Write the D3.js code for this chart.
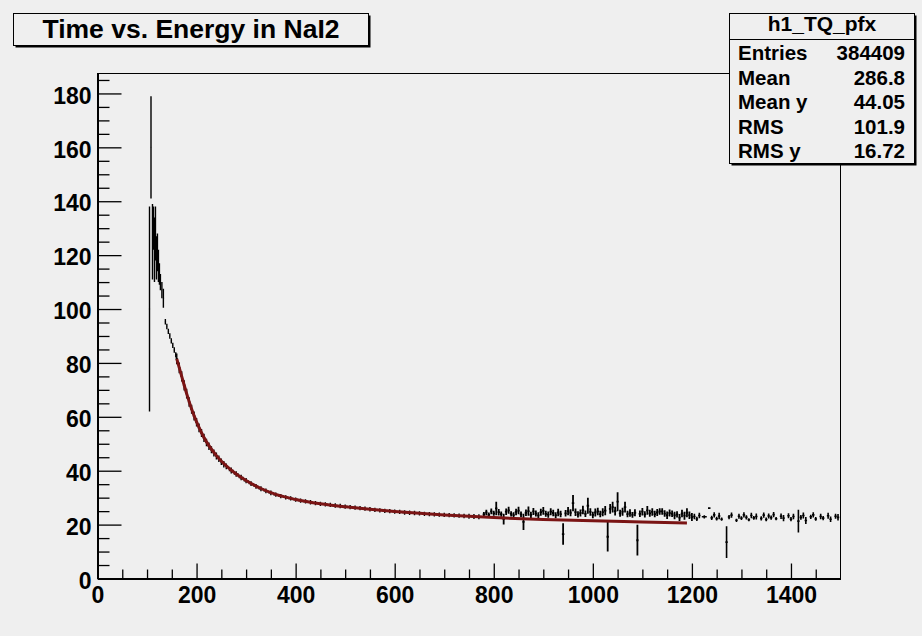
<!DOCTYPE html>
<html>
<head>
<meta charset="utf-8">
<script src="https://cdn.jsdelivr.net/npm/d3@7"></script>
<style>
  html, body { margin: 0; padding: 0; background: #efefef; }
  svg { display: block; }
  text { font-family: "Liberation Sans", Arial, Helvetica, sans-serif; font-weight: bold; fill: #000; }
</style>
</head>
<body>
<svg id="chart" width="922" height="636"></svg>
<script>
// ---- profile bins: x (energy), mean time, error on the mean ----
const earlyX    = [105, 108, 111, 113, 115, 117, 119, 121, 123, 125, 127, 130, 133, 137, 140, 143, 146, 149, 152, 155, 158];
const earlyMean = [100, 160, 125, 130, 122, 128, 119, 121, 116, 113, 110, 107, 104, 95.3, 93.5, 91.7, 90, 88.2, 86.5, 84.8, 83];
const earlyErr  = [38, 19, 14, 8, 12, 10, 8, 7, 6, 4, 3, 3, 3.5, 1, 1, 1, 1, 1, 1, 1, 1];

const steepX    = [160, 165, 170, 175, 180, 185, 190, 195, 200, 205, 210, 215, 220, 225, 230, 235, 240, 245, 250, 255, 260];
const steepMean = [81.5, 78.2, 75.0, 71.7, 68.6, 65.5, 62.8, 60.3, 58.0, 55.9, 54.0, 52.2, 50.5, 49.1, 47.8, 46.6, 45.5, 44.4, 43.3, 42.4, 41.6];
const steepErr  = [2.0, 2.0, 1.9, 1.9, 1.8, 1.8, 1.7, 1.7, 1.6, 1.6, 1.5, 1.5, 1.4, 1.4, 1.3, 1.3, 1.3, 1.2, 1.2, 1.2, 1.1];

const flatX    = [270, 280, 290, 300, 310, 320, 330, 340, 350, 360, 370, 380, 390, 400, 410, 420, 430, 440, 450, 460,
                  470, 480, 490, 500, 510, 520, 530, 540, 550, 560, 570, 580, 590, 600, 610, 620, 630, 640, 650, 660,
                  670, 680, 690, 700, 710, 720, 730, 740, 750, 760, 770];
const flatMean = [40.1, 38.8, 37.5, 36.3, 35.2, 34.2, 33.3, 32.5, 31.8, 31.1, 30.6, 30.1, 29.7, 29.3, 28.9, 28.6, 28.3, 28.0, 27.7, 27.5,
                  27.3, 27.1, 26.9, 26.7, 26.5, 26.3, 26.1, 25.9, 25.7, 25.5, 25.3, 25.1, 25.0, 24.8, 24.7, 24.5, 24.4, 24.3, 24.2, 24.0,
                  23.9, 23.8, 23.7, 23.6, 23.5, 23.4, 23.3, 23.2, 23.1, 23.0, 22.9];
const flatErr  = [1.1, 1.0, 1.0, 1.0, 0.9, 0.9, 0.9, 0.9, 0.9, 0.8, 0.8, 0.8, 0.8, 0.8, 0.8, 0.8, 0.8, 0.8, 0.8, 0.8,
                  0.8, 0.8, 0.8, 0.8, 0.8, 0.8, 0.8, 0.8, 0.8, 0.8, 0.8, 0.8, 0.8, 0.8, 0.8, 0.8, 0.8, 0.8, 0.8, 0.8,
                  0.8, 0.8, 0.8, 0.8, 0.8, 0.8, 0.8, 0.8, 0.9, 0.9, 0.9];

const tailX    = [780, 785, 790, 795, 800, 805, 810, 815, 820, 825, 830, 835, 840, 845, 850, 855, 860, 865, 870, 875,
                  880, 885, 890, 895, 900, 905, 910, 915, 920, 925, 930, 935, 940, 945, 950, 955, 960, 965, 970, 975,
                  980, 985, 990, 995, 1000, 1005, 1010, 1015, 1020, 1025, 1030, 1035, 1040, 1045, 1050, 1055, 1060, 1065, 1070, 1075,
                  1080, 1085, 1090, 1095, 1100, 1105, 1110, 1115, 1120, 1125, 1130, 1135, 1140, 1145, 1150, 1155, 1160, 1165, 1170, 1175,
                  1180, 1185, 1190, 1195, 1200];
const tailMean = [23.8, 24.5, 23.6, 24.9, 24.2, 26.0, 24.6, 23.9, 22.0, 24.8, 25.3, 24.0, 23.5, 24.7, 25.2, 23.8, 21.0, 24.4, 25.0, 23.6,
                  24.9, 24.1, 23.4, 24.6, 25.1, 24.0, 23.7, 24.8, 24.3, 23.5, 24.5, 23.9, 16.5, 24.2, 25.0, 24.4, 28.0, 24.6, 23.8, 24.3,
                  25.4, 24.0, 27.0, 24.7, 23.6, 24.5, 24.9, 23.9, 24.6, 25.2, 15.5, 25.8, 26.5, 25.0, 28.5, 24.2, 24.8, 26.5, 23.9, 24.3,
                  23.6, 24.4, 14.2, 24.0, 24.8, 23.8, 25.3, 24.2, 24.7, 23.9, 24.5, 24.9, 24.9, 24.1, 23.5, 24.3, 24.0, 23.4, 23.8, 22.6,
                  24.1, 23.3, 24.4, 23.5, 22.8];
const tailErr  = [0.9, 1.0, 0.9, 1.1, 0.9, 2.5, 1.2, 1.0, 2.0, 1.2, 1.3, 1.0, 1.1, 1.2, 1.4, 1.1, 3.0, 1.2, 1.7, 1.2,
                  1.3, 1.1, 1.2, 1.3, 1.4, 1.1, 1.2, 1.3, 1.2, 1.1, 1.4, 1.2, 4.0, 1.2, 1.5, 1.3, 3.0, 1.4, 1.2, 1.3,
                  1.6, 1.2, 3.0, 1.4, 1.2, 1.5, 1.4, 1.2, 1.5, 1.7, 5.5, 1.8, 2.0, 1.6, 3.5, 1.3, 1.5, 2.0, 1.2, 1.4,
                  1.1, 1.3, 5.7, 1.2, 1.4, 1.2, 1.6, 1.3, 1.4, 1.2, 1.3, 1.2, 1.2, 1.2, 1.4, 1.3, 1.2, 1.4, 1.2, 1.3,
                  1.4, 1.5, 1.7, 1.4, 1.5];

const farX    = [1205, 1210, 1215, 1225, 1235, 1240, 1245, 1250, 1255, 1260, 1270, 1275, 1280, 1290, 1295, 1300, 1305, 1310, 1315, 1320,
                 1325, 1330, 1340, 1345, 1350, 1355, 1360, 1365, 1370, 1380, 1385, 1395, 1400, 1405, 1415, 1420, 1425, 1430, 1440, 1445,
                 1450, 1460, 1465, 1475, 1480, 1490, 1495];
const farMean = [23.0, 22.1, 23.4, 22.9, 26.1, 22.5, 23.6, 22.2, 23.2, 22.0, 13.5, 22.8, 23.5, 21.6, 23.1, 22.4, 23.6, 22.7, 21.8, 23.4,
                 22.5, 23.0, 22.3, 23.5, 21.9, 23.2, 22.6, 23.7, 22.2, 23.1, 22.4, 23.3, 22.0, 23.0, 21.3, 22.7, 23.4, 21.5, 22.9, 23.6,
                 22.1, 23.0, 22.4, 23.3, 22.0, 23.1, 22.7];
const farErr  = [1.0, 0.8, 1.0, 0.6, 0.3, 0.8, 1.0, 0.7, 1.2, 0.6, 5.9, 0.8, 1.0, 0.6, 0.9, 0.7, 1.0, 0.8, 0.6, 1.0,
                 0.7, 1.1, 0.8, 1.0, 0.7, 0.9, 0.8, 1.0, 0.6, 1.0, 1.2, 0.9, 0.8, 1.0, 4.2, 0.9, 1.1, 1.3, 0.8, 1.0,
                 0.7, 1.0, 0.8, 1.1, 1.0, 0.9, 1.2];

// ---- fitted curve, sampled along its range ----
const fitX = [160, 170, 180, 190, 200, 210, 220, 240, 260, 280, 300, 330, 360, 400, 450, 500, 550, 600, 650, 700, 800, 900, 1000, 1100, 1190];
const fitY = [81.5, 75.0, 68.6, 62.9, 58.1, 54.1, 50.7, 45.6, 41.8, 38.8, 36.4, 33.4, 31.2, 29.3, 27.7, 26.6, 25.7, 24.9, 24.2, 23.6, 22.6, 21.9, 21.4, 21.0, 20.6];

// ---- axis ticks ----
const xMajorTicks = [0, 200, 400, 600, 800, 1000, 1200, 1400];
const xMinorTicks = [50, 100, 150, 250, 300, 350, 450, 500, 550, 650, 700, 750, 850, 900, 950, 1050, 1100, 1150, 1250, 1300, 1350, 1450];
const yMajorTicks = [0, 20, 40, 60, 80, 100, 120, 140, 160, 180];
const yMinorTicks = [5, 10, 15, 25, 30, 35, 45, 50, 55, 65, 70, 75, 85, 90, 95, 105, 110, 115, 125, 130, 135, 145, 150, 155, 165, 170, 175, 185];

// ---- texts ----
const titleText = "Time vs. Energy in NaI2";
const statsTitle = "h1_TQ_pfx";
const statNames  = ["Entries", "Mean", "Mean y", "RMS", "RMS y"];
const statValues = ["384409", "286.8", "44.05", "101.9", "16.72"];

// ---- layout ----
const svg = d3.select("#chart");
const W = 922, H = 636;
const frame = { left: 97.5, right: 840.5, top: 73.5, bottom: 578.5 };

svg.append("rect").attr("width", W).attr("height", H).attr("fill", "#efefef");

const x = d3.scaleLinear().domain([0, 1500]).range([frame.left, frame.right]);
const y = d3.scaleLinear().domain([0, 187.4]).range([frame.bottom, frame.top]);

// frame
svg.append("rect")
  .attr("x", frame.left).attr("y", frame.top)
  .attr("width", frame.right - frame.left).attr("height", frame.bottom - frame.top)
  .attr("fill", "none").attr("stroke", "#000").attr("stroke-width", 1)
  .attr("shape-rendering", "crispEdges");

const fmt = d3.format("d");

// x axis: major and minor ticks pointing into the frame
const gx = svg.append("g").attr("transform", `translate(0,${frame.bottom})`);
gx.call(d3.axisBottom(x).tickValues(xMajorTicks).tickFormat(fmt).tickSizeInner(-15).tickSizeOuter(0).tickPadding(8));
const gxm = svg.append("g").attr("transform", `translate(0,${frame.bottom})`);
gxm.call(d3.axisBottom(x).tickValues(xMinorTicks).tickSizeInner(-9).tickSizeOuter(0).tickFormat(""));

// y axis
const gy = svg.append("g").attr("transform", `translate(${frame.left},0)`);
gy.call(d3.axisLeft(y).tickValues(yMajorTicks).tickFormat(fmt).tickSizeInner(-24).tickSizeOuter(0).tickPadding(6));
const gym = svg.append("g").attr("transform", `translate(${frame.left},0)`);
gym.call(d3.axisLeft(y).tickValues(yMinorTicks).tickSizeInner(-12).tickSizeOuter(0).tickFormat(""));

[gx, gxm, gy, gym].forEach(g => {
  g.selectAll(".domain").attr("stroke", "#000").attr("shape-rendering", "crispEdges");
  g.selectAll(".tick line").attr("stroke", "#000").attr("stroke-width", 1.3);
  g.selectAll("text")
    .style("font-family", '"Liberation Sans", Arial, sans-serif')
    .style("font-weight", "bold")
    .style("font-size", "23px")
    .attr("fill", "#000");
});
gy.selectAll("text").attr("dy", "0.42em");

// ---- fit function ----
const fitLine = d3.line()
  .x(d => x(d[0]))
  .y(d => y(d[1]))
  .curve(d3.curveMonotoneX);

// ---- profile markers: horizontal bin bar plus vertical error bar ----
function drawProfile(xs, means, errs, width) {
  const pts = xs.map((v, i) => ({ x: v, m: means[i], e: errs[i] }));
  const half = pts.map((p, i) => {
    const dl = i > 0 ? p.x - pts[i - 1].x : Infinity;
    const dr = i < pts.length - 1 ? pts[i + 1].x - p.x : Infinity;
    return Math.min(Math.min(dl, dr) / 2, 5);
  });
  svg.append("g")
    .selectAll("path")
    .data(pts)
    .join("path")
    .attr("d", (p, i) =>
      `M${x(p.x - half[i])},${y(p.m)}H${x(p.x + half[i])}` +
      `M${x(p.x)},${y(p.m + p.e)}V${y(p.m - p.e)}`)
    .attr("fill", "none")
    .attr("stroke", "#000")
    .attr("stroke-width", width);
}
drawProfile(earlyX, earlyMean, earlyErr, 1.4);
drawProfile(steepX, steepMean, steepErr, 1.4);
drawProfile(flatX, flatMean, flatErr, 1.4);
drawProfile(tailX, tailMean, tailErr, 1.8);
drawProfile(farX, farMean, farErr, 1.6);

svg.append("path")
  .datum(fitX.map((v, i) => [v, fitY[i]]))
  .attr("d", fitLine)
  .attr("fill", "none")
  .attr("stroke", "#7a1414")
  .attr("stroke-width", 3)
  .attr("stroke-linecap", "butt");

// ---- title pave ----
function pave(x0, y0, w, h) {
  const g = svg.append("g");
  g.append("rect").attr("x", x0 + 2).attr("y", y0 + 2).attr("width", w).attr("height", h).attr("fill", "#000");
  g.append("rect").attr("x", x0).attr("y", y0).attr("width", w).attr("height", h)
    .attr("fill", "#efefef").attr("stroke", "#000").attr("stroke-width", 1)
    .attr("shape-rendering", "crispEdges");
  return g;
}
const tg = pave(13.5, 13.5, 355, 32);
tg.append("text")
  .attr("x", 13.5 + 355 / 2).attr("y", 38)
  .attr("text-anchor", "middle")
  .style("font-size", "26.5px")
  .text(titleText);

// ---- statistics box ----
const sx = 729.5, sy = 13.5, sw = 185, sh = 150;
const sg = pave(sx, sy, sw, sh);
sg.append("line")
  .attr("x1", sx).attr("x2", sx + sw).attr("y1", 39.5).attr("y2", 39.5)
  .attr("stroke", "#000").attr("shape-rendering", "crispEdges");
sg.append("text")
  .attr("x", sx + sw / 2).attr("y", 31)
  .attr("text-anchor", "middle")
  .style("font-size", "21px")
  .text(statsTitle);
statNames.forEach((name, i) => {
  const by = 60 + i * 24.6;
  sg.append("text").attr("x", 738).attr("y", by).style("font-size", "20.5px").text(name);
  sg.append("text").attr("x", 905).attr("y", by).attr("text-anchor", "end").style("font-size", "20.5px").text(statValues[i]);
});
</script>
</body>
</html>
